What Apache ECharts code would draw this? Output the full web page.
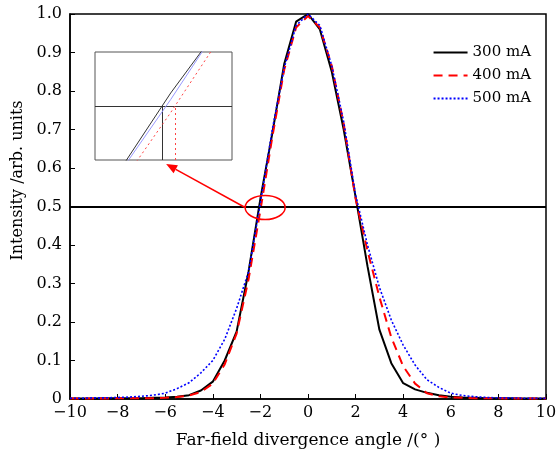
<!DOCTYPE html>
<html><head><meta charset="utf-8">
<script src="https://cdn.jsdelivr.net/npm/echarts@6/dist/echarts.min.js"></script>
<style>html,body{margin:0;padding:0;background:#fff}#c{width:560px;height:454px}</style>
</head><body><div id="c"></div>
<script>
const angles = [-10,-9.5,-9,-8.5,-8,-7.5,-7,-6.5,-6,-5.5,-5,-4.5,-4,-3.5,-3,-2.5,-2,-1.5,-1,-0.5,0,0.5,1,1.5,2,2.5,3,3.5,4,4.5,5,5.5,6,6.5,7,7.5,8,8.5,9,9.5,10];
const i300 = [0.001,0.001,0.001,0.002,0.002,0.002,0.002,0.003,0.004,0.006,0.010,0.022,0.045,0.100,0.175,0.330,0.520,0.690,0.870,0.980,1.000,0.960,0.850,0.700,0.525,0.345,0.180,0.093,0.041,0.025,0.016,0.010,0.006,0.004,0.003,0.002,0.002,0.002,0.001,0.001,0.001];
const i400 = [0.001,0.001,0.001,0.001,0.002,0.002,0.002,0.002,0.003,0.005,0.009,0.018,0.040,0.090,0.170,0.310,0.490,0.680,0.855,0.965,0.995,0.965,0.865,0.715,0.520,0.385,0.265,0.160,0.085,0.040,0.015,0.007,0.004,0.003,0.002,0.002,0.002,0.001,0.001,0.001,0.001];
const i500 = [0.002,0.002,0.003,0.003,0.004,0.005,0.007,0.010,0.015,0.027,0.042,0.068,0.100,0.155,0.235,0.330,0.510,0.700,0.860,0.970,1.000,0.970,0.865,0.720,0.530,0.400,0.290,0.205,0.140,0.088,0.050,0.030,0.015,0.009,0.006,0.004,0.003,0.003,0.002,0.002,0.002];
const seriesNames = ['300 mA','400 mA','500 mA'];
const xTicks = [-10,-8,-6,-4,-2,0,2,4,6,8,10];
const yTicks = [0,0.1,0.2,0.3,0.4,0.5,0.6,0.7,0.8,0.9,1.0];
const halfLevel = 0.5;

const pairs = arr => angles.map((a,i)=>[a,arr[i]]);
function leftCross(arr){
  for(let i=0;i<arr.length-1;i++){
    if(arr[i]<halfLevel && arr[i+1]>=halfLevel){
      return angles[i]+(halfLevel-arr[i])/(arr[i+1]-arr[i])*(angles[i+1]-angles[i]);
    }
  }
  return 0;
}
const c300 = leftCross(i300), c400 = leftCross(i400);
const insetW = 0.84, insetH = 0.166;
const inXmin = c300 - 0.49*insetW, inXmax = inXmin + insetW;
const inYmin = halfLevel - insetH/2, inYmax = halfLevel + insetH/2;

const FONT = 'DejaVu Serif';
const chart = echarts.init(document.getElementById('c'), null, {renderer:'canvas'});
const minus = v => String(v).replace('-', '\u2212');
const styles = [
  {color:'#000', type:'solid', width:2},
  {color:'#ff0000', type:[9,6], width:2},
  {color:'#0000ff', type:[2,2], width:1.6}
];
const data = [i300,i400,i500];
const option = {
  animation:false,
  backgroundColor:'#fff',
  textStyle:{fontFamily:FONT},
  grid:[
    {left:70, right:14, top:14, bottom:55, show:true, borderColor:'#000', borderWidth:1.5, containLabel:false},
    {left:95, top:52, width:137, height:108, show:true, borderColor:'#555', borderWidth:1, backgroundColor:'#fff', z:5}
  ],
  legend:{
    data:seriesNames, orient:'vertical', right:24, top:40, itemWidth:34, itemHeight:14, itemGap:8,
    itemStyle:{opacity:0, color:'rgba(0,0,0,0)', borderWidth:0},
    textStyle:{fontFamily:FONT, fontSize:15, color:'#000'}, align:'left'
  },
  xAxis:[
    {type:'value', gridIndex:0, min:-10, max:10, interval:2,
     name:'Far-field divergence angle /(\u00b0 )', nameLocation:'middle', nameGap:33,
     nameTextStyle:{fontFamily:FONT, fontSize:17, color:'#000'},
     axisLine:{onZero:false, lineStyle:{color:'#000', width:1.5}}, axisTick:{inside:true, length:5, lineStyle:{color:'#000'}},
     axisLabel:{formatter:minus, fontFamily:FONT, fontSize:16, color:'#000', margin:6},
     splitLine:{show:false}},
    {type:'value', gridIndex:1, min:inXmin, max:inXmax, show:false, splitLine:{show:false}}
  ],
  yAxis:[
    {type:'value', gridIndex:0, min:0, max:1, interval:0.1,
     name:'Intensity /arb. units', nameLocation:'middle', nameGap:37,
     nameTextStyle:{fontFamily:FONT, fontSize:16, color:'#000', padding:[0,0,0,52]},
     axisLine:{onZero:false, lineStyle:{color:'#000', width:1.5}}, axisTick:{inside:true, length:5, lineStyle:{color:'#000'}},
     axisLabel:{formatter:v=> v===0 ? '0' : v.toFixed(1), fontFamily:FONT, fontSize:16, color:'#000', margin:8},
     splitLine:{show:false}},
    {type:'value', gridIndex:1, min:inYmin, max:inYmax, show:false, splitLine:{show:false}}
  ],
  series:[]
};
seriesNames.forEach((n,k)=>{
  const s = {name:n, type:'line', xAxisIndex:0, yAxisIndex:0, data:pairs(data[k]), showSymbol:false, symbol:'none',
    lineStyle:styles[k], itemStyle:{color:styles[k].color}, z:3+k};
  if(k===0){
    s.markLine = {silent:true, symbol:'none', label:{show:false},
      lineStyle:{color:'#000', width:2, type:'solid'}, data:[{yAxis:halfLevel}]};
  }
  option.series.push(s);
});
const insetStyles = [
  {color:'#333', type:'solid', width:1},
  {color:'#ff4444', type:[2,3], width:1},
  {color:'#9999ff', type:'solid', width:1}
];
seriesNames.forEach((n,k)=>{
  const s = {name:'inset '+n, type:'line', xAxisIndex:1, yAxisIndex:1, data:pairs(data[k]), showSymbol:false, symbol:'none',
    lineStyle:insetStyles[k], z:10, clip:true};
  if(k===0){
    s.markLine = {silent:true, symbol:'none', label:{show:false}, lineStyle:{color:'#333', width:1, type:'solid'},
      data:[[{coord:[inXmin,halfLevel]},{coord:[inXmax,halfLevel]}],
            [{coord:[c300,inYmin]},{coord:[c300,halfLevel]}]]};
  }
  if(k===1){
    s.markLine = {silent:true, symbol:'none', label:{show:false}, lineStyle:{color:'#ff4444', width:1, type:[2,3]},
      data:[[{coord:[c400,inYmin]},{coord:[c400,halfLevel]}]]};
  }
  option.series.push(s);
});
chart.setOption(option);

const pc = chart.convertToPixel({xAxisIndex:0,yAxisIndex:0},[c300,halfLevel]);
const ecx = pc[0]+6, ecy = pc[1]+1, rx = 20, ry = 12;
const tip = chart.convertToPixel({xAxisIndex:1,yAxisIndex:1},[c300,inYmin]);
const tx = tip[0]+4, ty = tip[1]+4;
const sx = ecx-rx, sy = ecy;
const ang = Math.atan2(ty-sy, tx-sx);
const hl = 11, hw = 4.5;
const bx = tx - hl*Math.cos(ang), by = ty - hl*Math.sin(ang);
const px = -Math.sin(ang), py = Math.cos(ang);
chart.setOption({graphic:[
  {type:'ellipse', shape:{cx:ecx, cy:ecy, rx:rx, ry:ry}, style:{fill:null, stroke:'#ff0000', lineWidth:1.5}, z:20},
  {type:'line', shape:{x1:sx, y1:sy, x2:bx, y2:by}, style:{stroke:'#ff0000', lineWidth:1.5}, z:20},
  {type:'polygon', shape:{points:[[tx,ty],[bx+px*hw,by+py*hw],[bx-px*hw,by-py*hw]]}, style:{fill:'#ff0000'}, z:20}
]});
</script></body></html>
